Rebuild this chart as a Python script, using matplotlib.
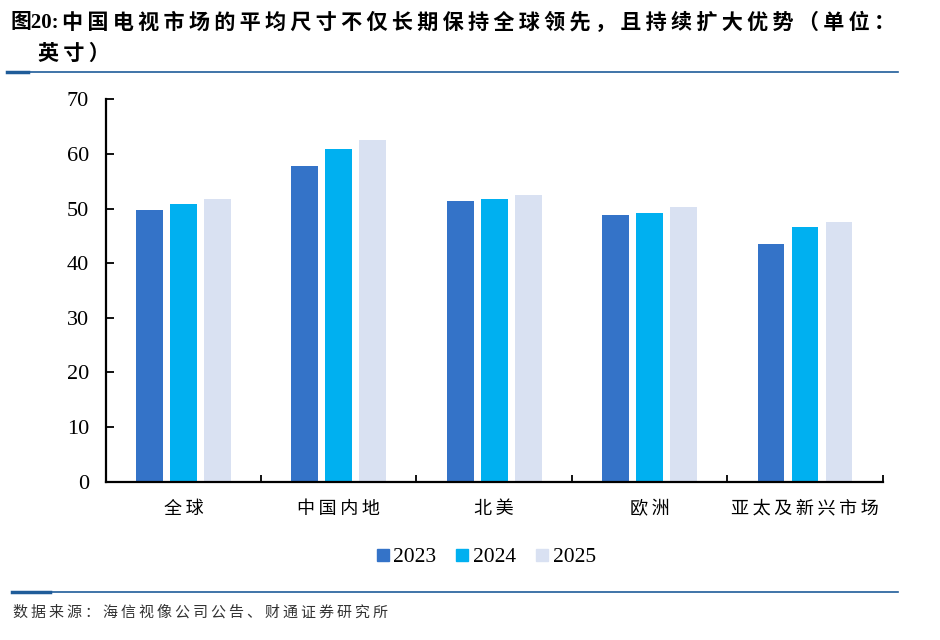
import numpy as np
import matplotlib.pyplot as plt
from matplotlib.lines import Line2D

plt.rcParams['font.family'] = ['Noto Sans CJK SC', 'DejaVu Sans']

categories = ['全球', '中国内地', '北美', '欧洲', '亚太及新兴市场']
years = ['2023', '2024', '2025']
v2023 = [49.8, 57.8, 51.4, 48.8, 43.6]
v2024 = [50.9, 60.9, 51.8, 49.2, 46.7]
v2025 = [51.7, 62.5, 52.4, 50.2, 47.6]
colors = ['#3473C8', '#00B0F0', '#D9E1F2']


def spaced(s, sep='\u2009'):
    # loose letter spacing like the report style
    return sep.join(s)


fig = plt.figure(figsize=(9.4, 6.4), dpi=100)
ax = fig.add_axes([105.7 / 940, 1 - 481.7 / 640, 777 / 940, 382.4 / 640])

x = np.arange(len(categories))
width = 0.172
step = 0.219
for i, (vals, yr) in enumerate(zip([v2023, v2024, v2025], years)):
    ax.bar(x + (i - 1) * step, vals, width, color=colors[i], label=yr, zorder=2)

ax.set_xlim(-0.5, len(categories) - 0.5)
ax.set_ylim(0, 70)
ax.set_yticks(range(0, 71, 10))
ax.set_yticklabels([str(v) for v in range(0, 71, 10)], family='Liberation Serif', fontsize=16)

# category labels centred, tick marks on group boundaries
ax.set_xticks(np.arange(-0.5, len(categories)), minor=False)
ax.set_xticklabels([])
ax.set_xticks(x, minor=True)
ax.set_xticklabels([spaced(c) for c in categories], minor=True, fontsize=13,
                   family=['Noto Sans CJK SC', 'DejaVu Sans'])
ax.tick_params(axis='x', which='minor', length=0, pad=13)
ax.tick_params(axis='x', which='major', direction='in', length=5, width=1.3)
ax.tick_params(axis='y', direction='in', length=6, width=1.3, pad=12)

for s in ['top', 'right']:
    ax.spines[s].set_visible(False)
for s in ['left', 'bottom']:
    ax.spines[s].set_linewidth(1.6)

handles = [Line2D([], [], marker='s', linestyle='none', markersize=8,
                  markerfacecolor=c, markeredgecolor=c) for c in colors]
fig.legend(handles, years, loc='center', bbox_to_anchor=(484 / 940, 1 - 557 / 640),
           ncol=3, frameon=False, prop={'family': 'Liberation Serif', 'size': 15.5},
           handletextpad=0.0, columnspacing=0.7, handlelength=1.0)

# title
title_font = ['Liberation Serif', 'Noto Sans CJK SC', 'DejaVu Sans']
fig.text(10 / 940, 1 - 23 / 640, '图20:', family=title_font,
         fontsize=15, fontweight='bold', va='center', ha='left')
fig.text(62 / 940, 1 - 23 / 640,
         spaced('中国电视市场的平均尺寸不仅长期保持全球领先，且持续扩大优势（单位：'),
         family=title_font, fontsize=15.2, fontweight='bold', va='center', ha='left')
fig.text(38 / 940, 1 - 55 / 640, spaced('英寸）'), family=title_font,
         fontsize=15.2, fontweight='bold', va='center', ha='left')
fig.add_artist(Line2D([7 / 940, 898 / 940], [1 - 72 / 640] * 2, color='#1F5C99', lw=1.2))
fig.add_artist(Line2D([7 / 940, 28 / 940], [1 - 72 / 640] * 2, color='#1F5C99', lw=2.5))

# footer
fig.add_artist(Line2D([12 / 940, 898 / 940], [1 - 592 / 640] * 2, color='#1F5C99', lw=1.2))
fig.add_artist(Line2D([12 / 940, 50 / 940], [1 - 592 / 640] * 2, color='#1F5C99', lw=2.5))
fig.text(13 / 940, 1 - 612 / 640, spaced('数据来源：海信视像公司公告、财通证券研究所'),
         fontsize=10.8, color='#333333', va='center', ha='left')

fig.savefig('out.png', dpi=100)
